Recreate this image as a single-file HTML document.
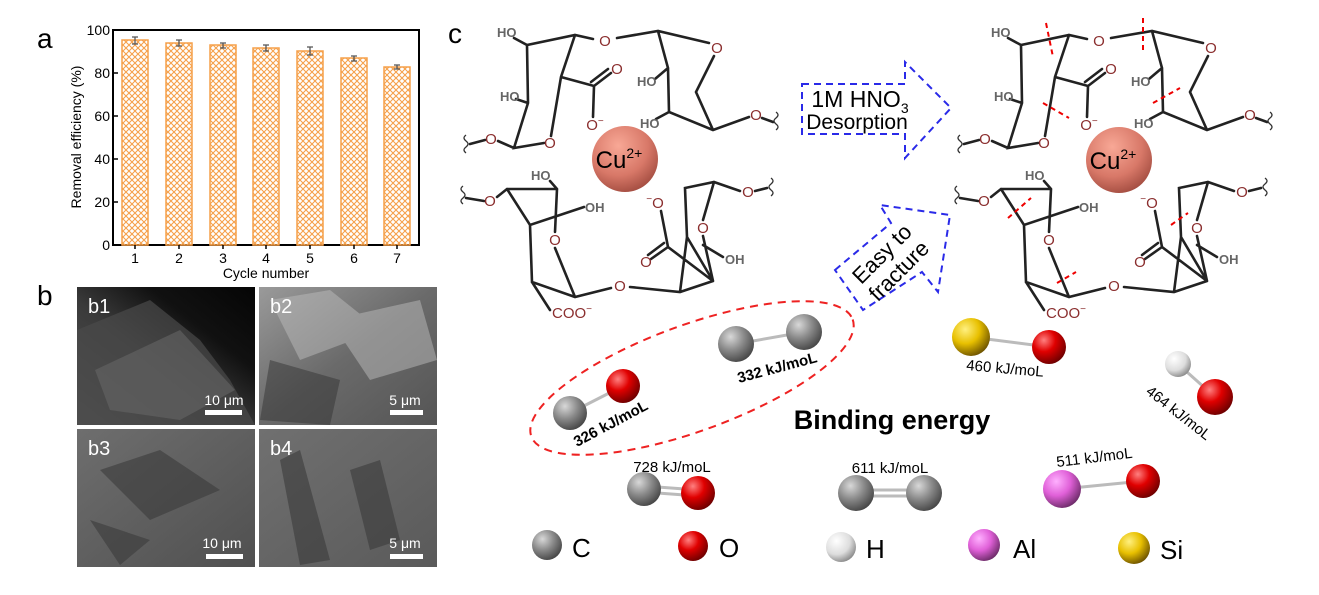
<!DOCTYPE html>
<html><head><meta charset="utf-8"><style>
html,body{margin:0;padding:0;background:#fff}
svg{display:block}
text{font-family:"Liberation Sans",sans-serif}
.b{stroke:#222;stroke-width:2.6;fill:none;stroke-linecap:round}
.o{font-family:"Liberation Serif",serif;fill:#8b2f2f;font-size:15px}
.h{font-family:"Liberation Serif",serif;fill:#666;font-size:13px;font-weight:bold}
.rd{stroke:#e00;stroke-width:2;stroke-dasharray:5,4}
</style></head><body>
<svg width="1319" height="595" viewBox="0 0 1319 595" xmlns="http://www.w3.org/2000/svg">
<defs>
<pattern id="hat" width="6" height="6" patternUnits="userSpaceOnUse">
<path d="M0,0 L6,6 M6,0 L0,6" stroke="#f5a04a" stroke-width="1.1"/>
</pattern>
<radialGradient id="gC" cx="0.35" cy="0.3" r="0.75"><stop offset="0" stop-color="#d8d8d8"/><stop offset="0.5" stop-color="#8a8a8a"/><stop offset="1" stop-color="#444"/></radialGradient>
<radialGradient id="gO" cx="0.35" cy="0.3" r="0.75"><stop offset="0" stop-color="#ff8080"/><stop offset="0.45" stop-color="#e00000"/><stop offset="1" stop-color="#6a0000"/></radialGradient>
<radialGradient id="gH" cx="0.35" cy="0.3" r="0.75"><stop offset="0" stop-color="#fff"/><stop offset="0.6" stop-color="#ddd"/><stop offset="1" stop-color="#888"/></radialGradient>
<radialGradient id="gA" cx="0.35" cy="0.3" r="0.75"><stop offset="0" stop-color="#ffb0ff"/><stop offset="0.5" stop-color="#e060d8"/><stop offset="1" stop-color="#6a2a66"/></radialGradient>
<radialGradient id="gS" cx="0.35" cy="0.3" r="0.75"><stop offset="0" stop-color="#fff080"/><stop offset="0.5" stop-color="#e8c000"/><stop offset="1" stop-color="#6a5000"/></radialGradient>
<radialGradient id="gCu" cx="0.4" cy="0.3" r="0.75"><stop offset="0" stop-color="#f8a896"/><stop offset="0.6" stop-color="#d87868"/><stop offset="1" stop-color="#a04a3e"/></radialGradient>
<g id="bonds">
<path class="b" d="M514,38 L527,45 L575,35 L593,39 M617,38 L658,31 L709,43 M714,56 L696,92 L713,130 M658,31 L668,68 L669,112 L713,130 M655,79 L668,68 M656,119 L669,112 M713,130 L749,117 M762,118 L773,122 M527,45 L528,103 L514,148 L544,143 M516,99 L528,103 M551,136 L561,77 L575,35 M561,77 L594,86 L611,73 M591,82 L608,69 M594,86 L593,117 M498,141 L514,148 M470,144 L485,140"/>
<path class="b" d="M466,198 L484,201 M497,197 L507,189 L557,189 M550,181 L557,189 M507,189 L530,225 L584,207 M557,189 L555,232 M555,248 L575,297 M530,225 L532,282 L575,297 L611,288 M630,287 L680,292 L713,281 M680,292 L687,237 L685,188 L714,182 L740,191 M755,191 L767,188 M714,182 L703,220 M703,236 L713,281 M687,237 L713,281 M661,211 L668,247 L713,281 M668,247 L651,259 M664,243 L648,255 M703,245 L723,257 M532,282 L550,310"/>
<path d="M466,135 q-4,3 0,6 q4,3 0,6 q-4,3 0,6 M776,112 q4,3 0,6 q-4,3 0,6 q4,3 0,6 M463,186 q-4,3 0,6 q4,3 0,6 q-4,3 0,6 M771,178 q4,3 0,6 q-4,3 0,6 q4,3 0,6" stroke="#333" stroke-width="1.3" fill="none"/>
</g>
</defs>

<!-- panel a -->
<text x="37" y="48" font-size="28">a</text>
<rect x="113" y="30" width="306" height="215" fill="none" stroke="#000" stroke-width="2"/>
<g stroke="#f5a04a" stroke-width="1.5">
<rect x="122" y="40" width="26" height="205" fill="url(#hat)"/>
<rect x="166" y="43" width="26" height="202" fill="url(#hat)"/>
<rect x="210" y="45" width="26" height="200" fill="url(#hat)"/>
<rect x="253" y="48" width="26" height="197" fill="url(#hat)"/>
<rect x="297" y="51" width="26" height="194" fill="url(#hat)"/>
<rect x="341" y="58" width="26" height="187" fill="url(#hat)"/>
<rect x="384" y="67" width="26" height="178" fill="url(#hat)"/>
</g>
<g stroke="#555" stroke-width="1.3">
<path d="M135,37v7M132,37h6M132,44h6 M179,40v6M176,40h6M176,46h6 M223,43v5M220,43h6M220,48h6 M266,45v6M263,45h6M263,51h6 M310,47v8M307,47h6M307,55h6 M354,56v5M351,56h6M351,61h6 M397,65v4M394,65h6M394,69h6"/>
</g>
<g stroke="#000" stroke-width="1.5">
<path d="M113,30h5M113,73h5M113,116h5M113,159h5M113,202h5M113,245h5 M135,245v4M179,245v4M223,245v4M266,245v4M310,245v4M354,245v4M397,245v4"/>
</g>
<g font-size="14" text-anchor="end">
<text x="110" y="35">100</text><text x="110" y="78">80</text><text x="110" y="121">60</text><text x="110" y="164">40</text><text x="110" y="207">20</text><text x="110" y="250">0</text>
</g>
<g font-size="14" text-anchor="middle">
<text x="135" y="263">1</text><text x="179" y="263">2</text><text x="223" y="263">3</text><text x="266" y="263">4</text><text x="310" y="263">5</text><text x="354" y="263">6</text><text x="397" y="263">7</text>
<text x="266" y="278">Cycle number</text>
<text transform="translate(81,137) rotate(-90)">Removal efficiency (%)</text>
</g>

<!-- panel b -->
<text x="37" y="305" font-size="28">b</text>
<defs>
<linearGradient id="s1" x1="0" y1="1" x2="1" y2="0"><stop offset="0" stop-color="#555"/><stop offset="0.45" stop-color="#3a3a3a"/><stop offset="0.7" stop-color="#111"/><stop offset="1" stop-color="#050505"/></linearGradient>
<linearGradient id="s2" x1="0" y1="0" x2="1" y2="1"><stop offset="0" stop-color="#9a9a9a"/><stop offset="0.5" stop-color="#6a6a6a"/><stop offset="1" stop-color="#555"/></linearGradient>
<linearGradient id="s3" x1="0" y1="0" x2="1" y2="1"><stop offset="0" stop-color="#6e6e6e"/><stop offset="1" stop-color="#505050"/></linearGradient>
<linearGradient id="s4" x1="0" y1="0" x2="1" y2="1"><stop offset="0" stop-color="#707070"/><stop offset="1" stop-color="#5a5a5a"/></linearGradient>
</defs>
<rect x="77" y="287" width="178" height="138" fill="url(#s1)"/>
<path d="M77,330 L150,300 L200,340 L230,380 L255,425 L77,425Z" fill="#4a4a4a" opacity="0.7"/>
<path d="M95,370 L180,330 L235,390 L180,420 L110,410Z" fill="#666" opacity="0.6"/>
<rect x="259" y="287" width="178" height="138" fill="url(#s2)"/>
<path d="M270,300 L330,290 L380,330 L300,360Z M330,320 L420,300 L437,360 L370,380Z" fill="#bbb" opacity="0.5"/>
<path d="M270,360 L340,380 L330,425 L260,420Z" fill="#333" opacity="0.5"/>
<rect x="77" y="429" width="178" height="138" fill="url(#s3)"/>
<path d="M100,470 L160,450 L220,490 L150,520Z M90,520 L150,540 L120,565Z" fill="#3a3a3a" opacity="0.6"/>
<rect x="259" y="429" width="178" height="138" fill="url(#s4)"/>
<path d="M280,460 L300,450 L330,560 L300,565Z M350,470 L380,460 L400,540 L370,550Z" fill="#3a3a3a" opacity="0.6"/>
<g fill="#fff" font-size="20">
<text x="88" y="313">b1</text><text x="270" y="313">b2</text><text x="88" y="455">b3</text><text x="270" y="455">b4</text>
</g>
<g fill="#fff" font-size="14" text-anchor="middle">
<text x="224" y="405">10 μm</text><text x="405" y="405">5 μm</text><text x="222" y="548">10 μm</text><text x="405" y="548">5 μm</text>
</g>
<g fill="#fff"><rect x="205" y="410" width="37" height="5"/><rect x="390" y="410" width="33" height="5"/><rect x="206" y="554" width="37" height="5"/><rect x="390" y="554" width="33" height="5"/></g>

<!-- panel c -->
<text x="448" y="43" font-size="28">c</text>
<use href="#bonds"/>
<use href="#bonds" transform="translate(494,0)"/>
<g class="h">
<text x="497" y="37">HO</text><text x="500" y="101">HO</text><text x="637" y="86">HO</text><text x="640" y="128">HO</text>
<text x="531" y="180">HO</text><text x="585" y="212">OH</text><text x="725" y="264">OH</text>
<text x="991" y="37">HO</text><text x="994" y="101">HO</text><text x="1131" y="86">HO</text><text x="1134" y="128">HO</text>
<text x="1025" y="180">HO</text><text x="1079" y="212">OH</text><text x="1219" y="264">OH</text>
</g>
<g class="o" text-anchor="middle">
<text x="605" y="46">O</text><text x="717" y="53">O</text><text x="617" y="74">O</text><text x="595" y="130">O<tspan font-size="10" dy="-6">−</tspan></text><text x="550" y="148">O</text><text x="491" y="144">O</text><text x="756" y="120">O</text>
<text x="490" y="206">O</text><text x="555" y="245">O</text><text x="620" y="291">O</text><text x="748" y="197">O</text><text x="703" y="233">O</text><text x="655" y="208"><tspan font-size="10" dy="-6">−</tspan><tspan dy="6">O</tspan></text><text x="646" y="267">O</text><text x="572" y="318">COO<tspan font-size="10" dy="-6">−</tspan></text>
<text x="1099" y="46">O</text><text x="1211" y="53">O</text><text x="1111" y="74">O</text><text x="1089" y="130">O<tspan font-size="10" dy="-6">−</tspan></text><text x="1044" y="148">O</text><text x="985" y="144">O</text><text x="1250" y="120">O</text>
<text x="984" y="206">O</text><text x="1049" y="245">O</text><text x="1114" y="291">O</text><text x="1242" y="197">O</text><text x="1197" y="233">O</text><text x="1149" y="208"><tspan font-size="10" dy="-6">−</tspan><tspan dy="6">O</tspan></text><text x="1140" y="267">O</text><text x="1066" y="318">COO<tspan font-size="10" dy="-6">−</tspan></text>
</g>
<circle cx="625" cy="159" r="33" fill="url(#gCu)"/>
<text x="619" y="168" font-size="24" text-anchor="middle">Cu<tspan font-size="14" dy="-10">2+</tspan></text>
<circle cx="1119" cy="160" r="33" fill="url(#gCu)"/>
<text x="1113" y="169" font-size="24" text-anchor="middle">Cu<tspan font-size="14" dy="-10">2+</tspan></text>
<g class="rd">
<path d="M1046,23L1053,57 M1143,18L1143,52 M1043,103L1069,118 M1153,103L1180,88 M1008,218L1031,198 M1171,225L1188,213 M1057,283L1076,272"/>
</g>

<!-- arrows -->
<path d="M802,84 L905,84 L905,62 L951,108 L905,158 L905,134 L802,134 Z" fill="none" stroke="#2a2ae8" stroke-width="2" stroke-dasharray="7,5"/>
<text x="860" y="107" font-size="23" text-anchor="middle">1M HNO<tspan font-size="14" dy="6">3</tspan></text>
<text x="857" y="129" font-size="21" text-anchor="middle">Desorption</text>
<path d="M835,270 L891,223 L880,205 L950,215 L938,292 L922,272 L863,310 Z" fill="none" stroke="#2a2ae8" stroke-width="2" stroke-dasharray="7,5"/>
<g transform="translate(890,262) rotate(-45)" font-size="22" text-anchor="middle">
<text x="0" y="-4">Easy to</text><text x="0" y="20">fracture</text>
</g>

<!-- binding energy -->
<ellipse cx="692" cy="378" rx="171" ry="53" transform="rotate(-20 692 378)" fill="none" stroke="#e22" stroke-width="2" stroke-dasharray="8,6"/>
<g stroke="#bbb" stroke-width="3">
<line x1="570" y1="413" x2="623" y2="386"/><line x1="736" y1="344" x2="804" y2="332"/>
<line x1="971" y1="337" x2="1049" y2="347"/><line x1="1178" y1="364" x2="1215" y2="397"/>
<line x1="1062" y1="489" x2="1143" y2="481"/>
<path d="M644,486 L698,490 M644,492 L698,496 M856,490 L924,490 M856,496 L924,496"/>
</g>
<circle cx="570" cy="413" r="17" fill="url(#gC)"/><circle cx="623" cy="386" r="17" fill="url(#gO)"/>
<circle cx="736" cy="344" r="18" fill="url(#gC)"/><circle cx="804" cy="332" r="18" fill="url(#gC)"/>
<circle cx="971" cy="337" r="19" fill="url(#gS)"/><circle cx="1049" cy="347" r="17" fill="url(#gO)"/>
<circle cx="1178" cy="364" r="13" fill="url(#gH)"/><circle cx="1215" cy="397" r="18" fill="url(#gO)"/>
<circle cx="644" cy="489" r="17" fill="url(#gC)"/><circle cx="698" cy="493" r="17" fill="url(#gO)"/>
<circle cx="856" cy="493" r="18" fill="url(#gC)"/><circle cx="924" cy="493" r="18" fill="url(#gC)"/>
<circle cx="1062" cy="489" r="19" fill="url(#gA)"/><circle cx="1143" cy="481" r="17" fill="url(#gO)"/>
<g font-size="15" font-weight="bold">
<text transform="translate(577,447) rotate(-28)">326 kJ/moL</text>
<text transform="translate(739,383) rotate(-15)">332 kJ/moL</text>
</g>
<g font-size="15">
<text transform="translate(966,370) rotate(5)">460 kJ/moL</text>
<text transform="translate(1145,393) rotate(38)">464 kJ/moL</text>
<text x="672" y="472" text-anchor="middle">728 kJ/moL</text>
<text x="890" y="473" text-anchor="middle">611 kJ/moL</text>
<text transform="translate(1057,467) rotate(-7)">511 kJ/moL</text>
</g>
<text x="892" y="429" font-size="27" font-weight="bold" text-anchor="middle">Binding energy</text>

<!-- legend -->
<circle cx="547" cy="545" r="15" fill="url(#gC)"/><text x="572" y="557" font-size="26">C</text>
<circle cx="693" cy="546" r="15" fill="url(#gO)"/><text x="719" y="557" font-size="26">O</text>
<circle cx="841" cy="547" r="15" fill="url(#gH)"/><text x="866" y="558" font-size="26">H</text>
<circle cx="984" cy="545" r="16" fill="url(#gA)"/><text x="1013" y="558" font-size="26">Al</text>
<circle cx="1134" cy="548" r="16" fill="url(#gS)"/><text x="1160" y="559" font-size="26">Si</text>
</svg>
</body></html>
